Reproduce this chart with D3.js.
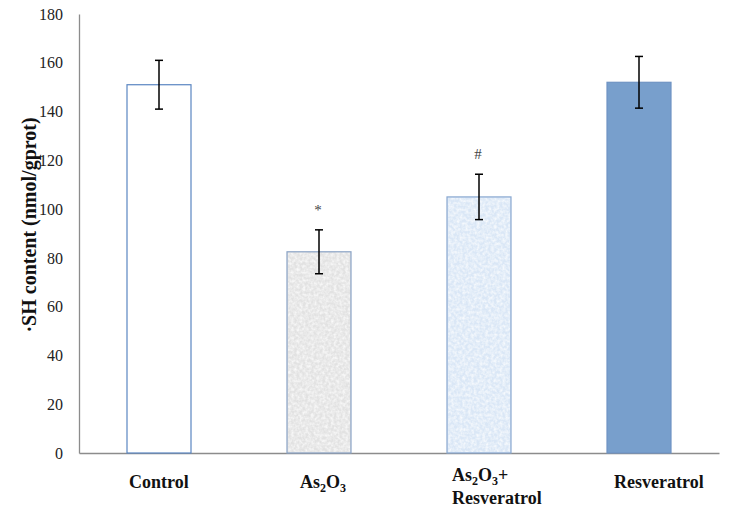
<!DOCTYPE html>
<html><head><meta charset="utf-8">
<script src="https://cdn.jsdelivr.net/npm/d3@7"></script>
<style>body{margin:0;background:#fff}svg{display:block}</style>
</head><body>
<svg id="c" width="729" height="514"></svg>
<script>
const categories = ["Control", "As2O3", "As2O3+Resveratrol", "Resveratrol"];
const values = [151, 82.5, 105, 152];
const errors = [10, 9, 9.3, 10.6];
const marks = ["", "*", "#", ""];
const yTicks = [0, 20, 40, 60, 80, 100, 120, 140, 160, 180];

const fills = ["#ffffff", "#e2e2e2", "#dae7f6", "#789fcc"];
const strokes = ["#5a86c2", "#8aa3c6", "#8aa8d0", "#6f93c3"];
const textured = [false, true, true, false];
const labelOffsets = [2, 13, 5, 7];

const svg = d3.select("#c");
const x = d3.scaleBand().domain(categories).range([79, 719]).paddingInner(0.6).paddingOuter(0.3);
const y = d3.scaleLinear().domain([0, 180]).range([453, 14]);

const defs = svg.append("defs");
const f = defs.append("filter").attr("id", "grain").attr("x", 0).attr("y", 0).attr("width", 1).attr("height", 1);
f.append("feTurbulence").attr("type", "fractalNoise").attr("baseFrequency", 0.35).attr("numOctaves", 2).attr("seed", 3).attr("result", "n");
f.append("feColorMatrix").attr("in", "n").attr("type", "matrix")
  .attr("values", "0 0 0 0 1  0 0 0 0 1  0 0 0 0 1  0 0 0 -1.6 1.1").attr("result", "w");
f.append("feComposite").attr("in", "w").attr("in2", "SourceGraphic").attr("operator", "in");

// axes
const yAxis = d3.axisLeft(y).tickValues(yTicks).tickSize(0).tickPadding(16);
const gy = svg.append("g").attr("transform", "translate(79,0)").call(yAxis);
gy.select(".domain").attr("stroke", "#8c8c8c").attr("stroke-width", 1.3);
gy.selectAll("text").attr("font-family", "Liberation Serif").attr("font-size", 16).attr("fill", "#222");

const gx = svg.append("g").attr("transform", "translate(0,453)").call(d3.axisBottom(x).tickSize(0).tickFormat(""));
gx.select(".domain").attr("stroke", "#8c8c8c").attr("stroke-width", 1.3);

// bars
categories.forEach((c, i) => {
  svg.append("rect").attr("x", x(c)).attr("y", y(values[i])).attr("width", x.bandwidth())
    .attr("height", y(0) - y(values[i])).attr("fill", fills[i]).attr("stroke", strokes[i]).attr("stroke-width", 1.2);
  if (textured[i]) {
    svg.append("rect").attr("x", x(c) + 1).attr("y", y(values[i]) + 1).attr("width", x.bandwidth() - 2)
      .attr("height", y(0) - y(values[i]) - 2).attr("fill", fills[i]).attr("filter", "url(#grain)").attr("opacity", 0.9);
  }
});

// error bars
categories.forEach((c, i) => {
  const cx = x(c) + x.bandwidth() / 2;
  const g = svg.append("g").attr("stroke", "#000").attr("stroke-width", 1.5);
  g.append("line").attr("x1", cx).attr("x2", cx).attr("y1", y(values[i] + errors[i])).attr("y2", y(values[i] - errors[i]));
  g.append("line").attr("x1", cx - 4).attr("x2", cx + 4).attr("y1", y(values[i] + errors[i])).attr("y2", y(values[i] + errors[i]));
  g.append("line").attr("x1", cx - 4).attr("x2", cx + 4).attr("y1", y(values[i] - errors[i])).attr("y2", y(values[i] - errors[i]));
  if (marks[i]) {
    svg.append("text").attr("x", cx - 1).attr("y", y(values[i] + errors[i]) - 15)
      .attr("text-anchor", "middle").attr("font-family", "Liberation Serif").attr("font-size", 15)
      .attr("fill", "#444").text(marks[i]);
  }
});

// category labels, digits as subscripts
function subLabel(t, s) {
  let low = false;
  s.split(/(\d)/).filter(p => p).forEach(p => {
    const isNum = /^\d$/.test(p);
    const dy = isNum === low ? 0 : (isNum ? 4 : -4);
    low = isNum;
    t.append("tspan").attr("dy", dy).attr("font-size", isNum ? 12 : 18).text(p);
  });
}
categories.forEach((c, i) => {
  const lx = x(c) + labelOffsets[i];
  const lines = c.includes("+") ? [c.split("+")[0] + "+", c.split("+")[1]] : [c];
  const baseY = lines.length > 1 ? 481 : 488;
  lines.forEach((ln, j) => {
    const t = svg.append("text").attr("x", lx).attr("y", baseY + j * 23)
      .attr("font-family", "Liberation Serif").attr("font-weight", "bold").attr("font-size", 18).attr("fill", "#111");
    subLabel(t, ln);
  });
});

// y title
svg.append("text").attr("transform", "translate(36,225) rotate(-90)").attr("text-anchor", "middle")
  .attr("font-family", "Liberation Serif").attr("font-weight", "bold").attr("font-size", 20).attr("fill", "#111")
  .text("·SH content (nmol/gprot)");
</script>
</body></html>
